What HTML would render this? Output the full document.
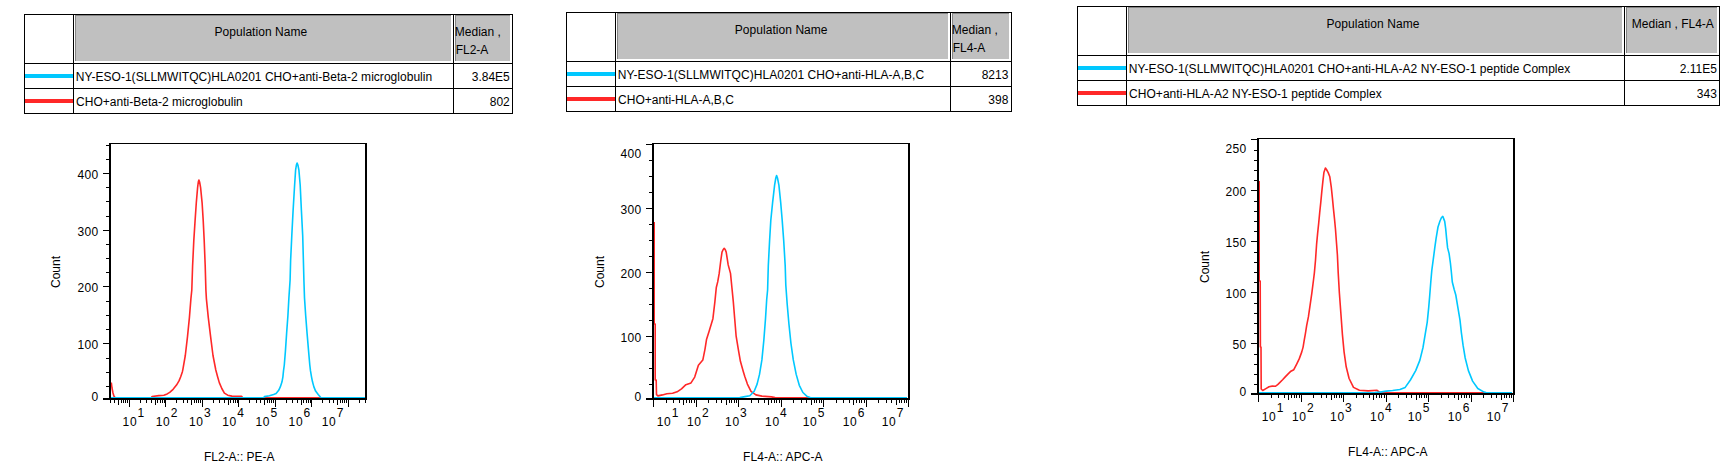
<!DOCTYPE html>
<html><head><meta charset="utf-8"><title>Flow cytometry histograms</title>
<style>
html,body{margin:0;padding:0;background:#fff;width:1730px;height:476px;overflow:hidden;}
svg{display:block;}
text{font-family:"Liberation Sans",Arial,sans-serif;font-size:12px;fill:#000;}
</style></head><body>
<svg width="1730" height="476" viewBox="0 0 1730 476" shape-rendering="crispEdges">
<rect x="0" y="0" width="1730" height="476" fill="#fff"/>
<rect x="75" y="15" width="376" height="46" fill="#C0C0C0"/>
<rect x="75" y="15" width="1" height="46" fill="#858585"/>
<rect x="75" y="15" width="376" height="1" fill="#858585"/>
<rect x="455" y="15" width="55" height="46" fill="#C0C0C0"/>
<rect x="455" y="15" width="1" height="46" fill="#858585"/>
<rect x="455" y="15" width="55" height="1" fill="#858585"/>
<rect x="24" y="14" width="489" height="1" fill="#000"/>
<rect x="24" y="113" width="489" height="1" fill="#000"/>
<rect x="24" y="63" width="489" height="1" fill="#000"/>
<rect x="24" y="88" width="489" height="1" fill="#000"/>
<rect x="24" y="14" width="1" height="100" fill="#000"/>
<rect x="73" y="14" width="1" height="100" fill="#000"/>
<rect x="453" y="14" width="1" height="100" fill="#000"/>
<rect x="512" y="14" width="1" height="100" fill="#000"/>
<rect x="25" y="74" width="48" height="4" fill="#00C8FF"/>
<rect x="25" y="99" width="48" height="4" fill="#FF2828"/>
<text x="214.40" y="35.70" textLength="92.86" lengthAdjust="spacing">Population Name</text>
<text x="454.80" y="35.50">Median ,</text>
<text x="455.70" y="53.50">FL2-A</text>
<text x="75.80" y="80.60" textLength="356.39" lengthAdjust="spacing">NY-ESO-1(SLLMWITQC)HLA0201 CHO+anti-Beta-2 microglobulin</text>
<text x="76.10" y="105.60" textLength="166.71" lengthAdjust="spacing">CHO+anti-Beta-2 microglobulin</text>
<text x="509.80" y="80.60" text-anchor="end">3.84E5</text>
<text x="509.80" y="105.60" text-anchor="end">802</text>
<rect x="617" y="13" width="331" height="46" fill="#C0C0C0"/>
<rect x="617" y="13" width="1" height="46" fill="#858585"/>
<rect x="617" y="13" width="331" height="1" fill="#858585"/>
<rect x="952" y="13" width="57" height="46" fill="#C0C0C0"/>
<rect x="952" y="13" width="1" height="46" fill="#858585"/>
<rect x="952" y="13" width="57" height="1" fill="#858585"/>
<rect x="566" y="12" width="446" height="1" fill="#000"/>
<rect x="566" y="111" width="446" height="1" fill="#000"/>
<rect x="566" y="61" width="446" height="1" fill="#000"/>
<rect x="566" y="86" width="446" height="1" fill="#000"/>
<rect x="566" y="12" width="1" height="100" fill="#000"/>
<rect x="615" y="12" width="1" height="100" fill="#000"/>
<rect x="950" y="12" width="1" height="100" fill="#000"/>
<rect x="1011" y="12" width="1" height="100" fill="#000"/>
<rect x="567" y="72" width="48" height="4" fill="#00C8FF"/>
<rect x="567" y="97" width="48" height="4" fill="#FF2828"/>
<text x="734.70" y="33.70" textLength="92.86" lengthAdjust="spacing">Population Name</text>
<text x="951.80" y="33.50">Median ,</text>
<text x="952.70" y="51.50">FL4-A</text>
<text x="617.80" y="78.60" textLength="306.38" lengthAdjust="spacing">NY-ESO-1(SLLMWITQC)HLA0201 CHO+anti-HLA-A,B,C</text>
<text x="618.10" y="103.60">CHO+anti-HLA-A,B,C</text>
<text x="1008.40" y="78.60" text-anchor="end">8213</text>
<text x="1008.40" y="103.60" text-anchor="end">398</text>
<rect x="1128" y="7" width="494" height="46" fill="#C0C0C0"/>
<rect x="1128" y="7" width="1" height="46" fill="#858585"/>
<rect x="1128" y="7" width="494" height="1" fill="#858585"/>
<rect x="1626" y="7" width="91" height="46" fill="#C0C0C0"/>
<rect x="1626" y="7" width="1" height="46" fill="#858585"/>
<rect x="1626" y="7" width="91" height="1" fill="#858585"/>
<rect x="1077" y="6" width="643" height="1" fill="#000"/>
<rect x="1077" y="105" width="643" height="1" fill="#000"/>
<rect x="1077" y="55" width="643" height="1" fill="#000"/>
<rect x="1077" y="80" width="643" height="1" fill="#000"/>
<rect x="1077" y="6" width="1" height="100" fill="#000"/>
<rect x="1126" y="6" width="1" height="100" fill="#000"/>
<rect x="1624" y="6" width="1" height="100" fill="#000"/>
<rect x="1719" y="6" width="1" height="100" fill="#000"/>
<rect x="1078" y="66" width="48" height="4" fill="#00C8FF"/>
<rect x="1078" y="91" width="48" height="4" fill="#FF2828"/>
<text x="1326.50" y="27.70" textLength="92.86" lengthAdjust="spacing">Population Name</text>
<text x="1631.80" y="27.50">Median , FL4-A</text>
<text x="1128.80" y="72.60" textLength="441.43" lengthAdjust="spacing">NY-ESO-1(SLLMWITQC)HLA0201 CHO+anti-HLA-A2 NY-ESO-1 peptide Complex</text>
<text x="1129.10" y="97.60" textLength="252.64" lengthAdjust="spacing">CHO+anti-HLA-A2 NY-ESO-1 peptide Complex</text>
<text x="1716.90" y="72.60" text-anchor="end">2.11E5</text>
<text x="1716.90" y="97.60" text-anchor="end">343</text>
<path d="M111.3,382.5 L112.0,388.0 L113.0,393.0 L114.0,396.3 L115.0,397.6" fill="none" stroke="#FF2828" stroke-width="1.6" stroke-linejoin="round" shape-rendering="geometricPrecision"/>
<path d="M151.5,397.6 L152.1,396.5 L158.8,395.6 L163.9,395.2 L167.2,393.9 L169.7,392.3 L173.1,389.3 L176.5,385.1 L179.0,380.9 L180.7,376.7 L182.4,371.7 L182.8,369.8 L185.3,355.5 L187.5,336.6 L189.4,317.7 L190.9,298.9 L191.8,290.0 L192.6,265.8 L193.8,240.6 L195.1,220.4 L196.3,202.8 L197.6,187.6 L198.3,182.0 L198.9,180.1 L199.6,182.0 L200.6,187.6 L202.1,202.8 L203.2,220.4 L204.2,240.6 L205.2,265.8 L205.9,290.0 L206.4,298.9 L208.3,317.7 L210.6,336.6 L213.0,355.5 L215.8,370.0 L217.6,376.7 L219.3,382.6 L221.8,388.5 L224.4,393.1 L227.7,395.2 L231.9,396.1 L241.5,396.3 L242.5,397.6" fill="none" stroke="#FF2828" stroke-width="1.6" stroke-linejoin="round" shape-rendering="geometricPrecision"/>
<rect x="115.0" y="397" width="36.5" height="1" fill="#FF2828"/>
<rect x="242.5" y="397" width="122.5" height="1" fill="#FF2828"/>
<path d="M263.9,397.6 L264.4,396.6 L269.4,395.7 L273.6,394.5 L276.1,393.6 L278.7,390.3 L280.3,386.9 L282.0,381.8 L282.9,376.8 L283.5,370.9 L284.3,365.0 L285.4,351.4 L286.6,333.6 L287.9,315.7 L288.9,297.9 L290.1,280.0 L290.6,260.8 L291.8,235.6 L293.1,210.4 L294.6,185.2 L295.6,170.1 L296.4,165.0 L297.1,163.0 L297.9,165.0 L298.9,170.1 L300.2,185.2 L301.4,210.4 L302.7,235.6 L303.4,260.8 L303.9,280.0 L304.5,297.9 L305.7,315.7 L307.1,333.6 L308.6,351.4 L309.8,365.0 L310.5,370.9 L311.5,376.8 L312.5,381.8 L313.9,386.9 L315.6,391.1 L318.2,394.5 L320.7,397.6" fill="none" stroke="#00C8FF" stroke-width="1.6" stroke-linejoin="round" shape-rendering="geometricPrecision"/>
<rect x="111.0" y="397" width="152.9" height="1" fill="#00C8FF"/>
<rect x="320.7" y="397" width="44.3" height="1" fill="#00C8FF"/>
<rect x="268.7" y="397" width="49.8" height="1" fill="#FF2828"/>
<rect x="109" y="143" width="258" height="1" fill="#000"/>
<rect x="109" y="143" width="2" height="257" fill="#000"/>
<rect x="365" y="143" width="2" height="257" fill="#000"/>
<rect x="103" y="398" width="264" height="2" fill="#000"/>
<path d="M106,386.5H109 M106,372.5H109 M106,358.5H109 M103,343.5H109 M106,329.5H109 M106,315.5H109 M106,301.5H109 M103,286.5H109 M106,272.5H109 M106,258.5H109 M106,244.5H109 M103,230.5H109 M106,216.5H109 M106,201.5H109 M106,187.5H109 M103,173.5H109 M106,159.5H109 M106,145.5H109 M110.5,400V403 M114.5,400V403 M118.5,400V405 M121.5,400V403 M123.5,400V403 M125.5,400V403 M127.5,400V403 M129.5,400V407 M140.5,400V403 M146.5,400V403 M151.5,400V403 M155.5,400V405 M157.5,400V403 M160.5,400V403 M162.5,400V403 M164.5,400V403 M165.5,400V407 M176.5,400V403 M183.5,400V403 M187.5,400V403 M191.5,400V405 M194.5,400V403 M196.5,400V403 M198.5,400V403 M200.5,400V403 M202.5,400V407 M213.5,400V403 M219.5,400V403 M224.5,400V403 M228.5,400V405 M230.5,400V403 M233.5,400V403 M235.5,400V403 M237.5,400V403 M238.5,400V407 M249.5,400V403 M256.5,400V403 M260.5,400V403 M264.5,400V405 M267.5,400V403 M269.5,400V403 M271.5,400V403 M273.5,400V403 M275.5,400V407 M286.5,400V403 M292.5,400V403 M297.5,400V403 M301.5,400V405 M303.5,400V403 M306.5,400V403 M308.5,400V403 M310.5,400V403 M311.5,400V407 M322.5,400V403 M329.5,400V403 M333.5,400V403 M337.5,400V405 M340.5,400V403 M342.5,400V403 M344.5,400V403 M346.5,400V403 M348.5,400V407 M359.5,400V403 M365.5,400V403" stroke="#000" stroke-width="1" fill="none"/>
<text x="98.53" y="400.50" text-anchor="end" letter-spacing="0.33">0</text>
<text x="98.53" y="348.75" text-anchor="end" letter-spacing="0.33">100</text>
<text x="98.53" y="292.30" text-anchor="end" letter-spacing="0.33">200</text>
<text x="98.53" y="235.85" text-anchor="end" letter-spacing="0.33">300</text>
<text x="98.53" y="179.40" text-anchor="end" letter-spacing="0.33">400</text>
<text x="122.60" y="425.50" letter-spacing="0.65">10</text>
<text x="137.60" y="416.60">1</text>
<text x="155.80" y="425.50" letter-spacing="0.65">10</text>
<text x="170.80" y="416.60">2</text>
<text x="189.00" y="425.50" letter-spacing="0.65">10</text>
<text x="204.00" y="416.60">3</text>
<text x="222.20" y="425.50" letter-spacing="0.65">10</text>
<text x="237.20" y="416.60">4</text>
<text x="255.40" y="425.50" letter-spacing="0.65">10</text>
<text x="270.40" y="416.60">5</text>
<text x="288.60" y="425.50" letter-spacing="0.65">10</text>
<text x="303.60" y="416.60">6</text>
<text x="321.80" y="425.50" letter-spacing="0.65">10</text>
<text x="336.80" y="416.60">7</text>
<text x="203.90" y="460.80">FL2-A:: PE-A</text>
<text transform="translate(60.40,288.00) rotate(-90)">Count</text>
<path d="M654.2,222.0 L654.2,324.0 L655.2,324.0 L655.2,380.0 L656.2,380.0 L656.5,394.7 L657.9,395.9 L662.4,394.9 L666.8,393.7 L672.6,393.3 L677.1,391.8 L681.5,388.8 L685.9,384.7 L691.0,382.9 L694.7,377.1 L698.4,365.3 L702.8,360.1 L705.0,349.1 L706.5,339.6 L709.2,331.0 L712.9,318.7 L714.9,301.7 L716.3,287.5 L717.7,281.9 L719.2,273.4 L720.6,262.0 L722.0,252.1 L723.2,249.5 L724.2,248.4 L725.2,249.5 L726.2,252.1 L728.2,264.9 L730.5,273.4 L731.9,287.5 L733.3,301.7 L734.7,318.7 L736.1,335.8 L738.4,349.9 L740.4,361.3 L743.2,371.2 L744.8,376.5 L747.4,384.1 L751.0,391.3 L755.9,394.9 L761.9,396.1 L771.5,396.9 L775.0,397.6" fill="none" stroke="#FF2828" stroke-width="1.6" stroke-linejoin="round" shape-rendering="geometricPrecision"/>
<rect x="775.0" y="397" width="132.0" height="1" fill="#FF2828"/>
<path d="M739.8,397.6 L745.0,396.6 L749.8,395.7 L754.2,391.3 L757.1,384.1 L759.5,374.4 L761.9,359.9 L763.8,340.6 L765.5,318.8 L766.7,299.5 L767.6,290.0 L768.3,265.7 L769.6,240.5 L770.8,220.4 L772.6,202.7 L774.6,185.1 L775.8,178.0 L776.6,175.5 L777.5,178.0 L778.9,185.1 L780.7,202.7 L782.2,220.4 L783.7,240.5 L785.2,265.7 L785.8,285.0 L787.2,304.3 L788.9,323.7 L790.9,343.0 L793.3,359.9 L796.2,374.4 L799.3,385.3 L802.9,392.5 L807.3,396.6 L810.2,397.6" fill="none" stroke="#00C8FF" stroke-width="1.6" stroke-linejoin="round" shape-rendering="geometricPrecision"/>
<rect x="654.0" y="397" width="85.8" height="1" fill="#00C8FF"/>
<rect x="810.2" y="397" width="96.8" height="1" fill="#00C8FF"/>
<rect x="652" y="143" width="258" height="1" fill="#000"/>
<rect x="652" y="143" width="2" height="257" fill="#000"/>
<rect x="908" y="143" width="2" height="257" fill="#000"/>
<rect x="646" y="398" width="264" height="2" fill="#000"/>
<path d="M649,384.5H652 M649,368.5H652 M649,352.5H652 M646,336.5H652 M649,320.5H652 M649,304.5H652 M649,288.5H652 M646,272.5H652 M649,256.5H652 M649,240.5H652 M649,224.5H652 M646,208.5H652 M649,192.5H652 M649,176.5H652 M649,160.5H652 M646,144.5H652 M653.5,400V407 M666.5,400V403 M673.5,400V403 M679.5,400V403 M683.5,400V405 M686.5,400V403 M689.5,400V403 M691.5,400V403 M694.5,400V403 M696.5,400V407 M708.5,400V403 M716.5,400V403 M721.5,400V403 M726.5,400V405 M729.5,400V403 M731.5,400V403 M734.5,400V403 M736.5,400V403 M738.5,400V407 M751.5,400V403 M758.5,400V403 M764.5,400V403 M768.5,400V405 M771.5,400V403 M774.5,400V403 M776.5,400V403 M779.5,400V403 M781.5,400V407 M793.5,400V403 M801.5,400V403 M806.5,400V403 M811.5,400V405 M814.5,400V403 M816.5,400V403 M819.5,400V403 M821.5,400V403 M823.5,400V407 M836.5,400V403 M843.5,400V403 M849.5,400V403 M853.5,400V405 M856.5,400V403 M859.5,400V403 M861.5,400V403 M864.5,400V403 M866.5,400V407 M878.5,400V403 M886.5,400V403 M891.5,400V403 M896.5,400V405 M899.5,400V403 M901.5,400V403 M904.5,400V403 M906.5,400V403 M908.5,400V407" stroke="#000" stroke-width="1" fill="none"/>
<text x="641.53" y="400.50" text-anchor="end" letter-spacing="0.33">0</text>
<text x="641.53" y="341.72" text-anchor="end" letter-spacing="0.33">100</text>
<text x="641.53" y="277.94" text-anchor="end" letter-spacing="0.33">200</text>
<text x="641.53" y="214.16" text-anchor="end" letter-spacing="0.33">300</text>
<text x="641.53" y="158.00" text-anchor="end" letter-spacing="0.33">400</text>
<text x="656.70" y="425.50" letter-spacing="0.65">10</text>
<text x="671.70" y="416.60">1</text>
<text x="687.00" y="425.50" letter-spacing="0.65">10</text>
<text x="702.00" y="416.60">2</text>
<text x="725.10" y="425.50" letter-spacing="0.65">10</text>
<text x="740.10" y="416.60">3</text>
<text x="765.10" y="425.50" letter-spacing="0.65">10</text>
<text x="780.10" y="416.60">4</text>
<text x="802.80" y="425.50" letter-spacing="0.65">10</text>
<text x="817.80" y="416.60">5</text>
<text x="842.80" y="425.50" letter-spacing="0.65">10</text>
<text x="857.80" y="416.60">6</text>
<text x="881.70" y="425.50" letter-spacing="0.65">10</text>
<text x="896.70" y="416.60">7</text>
<text x="743.00" y="460.80" textLength="79.50" lengthAdjust="spacing">FL4-A:: APC-A</text>
<text transform="translate(603.70,288.00) rotate(-90)">Count</text>
<path d="M1259.2,181.0 L1259.2,281.0 L1260.2,281.0 L1260.4,347.0 L1261.0,347.0 L1261.2,389.0 L1262.7,390.5 L1265.9,388.6 L1269.0,386.7 L1272.2,386.1 L1275.3,386.3 L1277.0,385.2 L1278.2,384.1 L1282.6,379.7 L1285.0,377.1 L1287.9,374.1 L1290.9,371.2 L1293.8,369.7 L1296.8,363.8 L1299.2,358.9 L1301.7,352.1 L1303.1,347.1 L1304.2,340.4 L1305.4,333.7 L1306.7,325.3 L1308.4,316.9 L1310.1,305.2 L1311.8,293.4 L1313.5,280.0 L1314.4,272.6 L1315.5,260.2 L1316.6,244.2 L1317.6,233.7 L1318.7,223.2 L1319.7,212.6 L1320.8,202.1 L1321.8,191.6 L1322.9,181.1 L1323.9,172.6 L1325.4,168.0 L1326.5,169.5 L1328.2,172.6 L1329.8,176.8 L1331.3,187.4 L1332.4,197.9 L1333.4,208.4 L1334.5,218.9 L1335.5,229.5 L1336.6,244.2 L1337.4,255.0 L1338.2,272.6 L1339.4,293.2 L1340.9,313.8 L1342.4,334.4 L1344.1,352.1 L1346.2,366.8 L1349.1,378.5 L1353.5,387.4 L1359.4,390.3 L1368.2,390.9 L1377.1,390.3 L1380.0,392.6" fill="none" stroke="#FF2828" stroke-width="1.6" stroke-linejoin="round" shape-rendering="geometricPrecision"/>
<rect x="1380.0" y="392" width="132.0" height="1" fill="#FF2828"/>
<path d="M1375.0,392.6 L1380.0,392.1 L1386.3,391.1 L1392.6,390.5 L1399.9,389.5 L1405.2,387.4 L1410.4,380.0 L1415.7,370.6 L1419.9,360.1 L1423.0,347.5 L1425.1,334.9 L1427.2,322.3 L1428.7,307.6 L1429.6,297.0 L1430.8,281.7 L1431.8,270.4 L1433.3,259.1 L1434.8,247.7 L1436.1,238.3 L1438.0,227.0 L1439.9,221.3 L1441.5,217.5 L1442.8,216.4 L1444.7,221.4 L1445.7,228.9 L1446.6,238.4 L1447.6,247.9 L1449.1,253.6 L1450.4,263.0 L1451.4,272.5 L1452.3,282.0 L1454.2,289.5 L1455.8,295.0 L1457.9,307.6 L1460.0,320.2 L1461.4,332.8 L1463.1,345.4 L1465.2,358.0 L1468.4,370.6 L1472.6,381.1 L1477.8,388.5 L1484.1,392.1 L1486.0,392.6" fill="none" stroke="#00C8FF" stroke-width="1.6" stroke-linejoin="round" shape-rendering="geometricPrecision"/>
<rect x="1259.0" y="392" width="116.0" height="1" fill="#00C8FF"/>
<rect x="1486.0" y="392" width="26.0" height="1" fill="#00C8FF"/>
<rect x="1257" y="138" width="258" height="1" fill="#000"/>
<rect x="1257" y="138" width="2" height="257" fill="#000"/>
<rect x="1513" y="138" width="2" height="257" fill="#000"/>
<rect x="1251" y="393" width="264" height="2" fill="#000"/>
<path d="M1254,384.5H1257 M1254,374.5H1257 M1254,364.5H1257 M1254,354.5H1257 M1251,343.5H1257 M1254,333.5H1257 M1254,323.5H1257 M1254,313.5H1257 M1254,303.5H1257 M1251,292.5H1257 M1254,282.5H1257 M1254,272.5H1257 M1254,262.5H1257 M1254,252.5H1257 M1251,241.5H1257 M1254,231.5H1257 M1254,221.5H1257 M1254,211.5H1257 M1254,201.5H1257 M1251,190.5H1257 M1254,180.5H1257 M1254,170.5H1257 M1254,160.5H1257 M1254,150.5H1257 M1251,139.5H1257 M1258.5,395V402 M1271.5,395V398 M1278.5,395V398 M1284.5,395V398 M1288.5,395V400 M1291.5,395V398 M1294.5,395V398 M1296.5,395V398 M1299.5,395V398 M1301.5,395V402 M1313.5,395V398 M1321.5,395V398 M1326.5,395V398 M1331.5,395V400 M1334.5,395V398 M1336.5,395V398 M1339.5,395V398 M1341.5,395V398 M1343.5,395V402 M1356.5,395V398 M1363.5,395V398 M1369.5,395V398 M1373.5,395V400 M1376.5,395V398 M1379.5,395V398 M1381.5,395V398 M1384.5,395V398 M1386.5,395V402 M1398.5,395V398 M1406.5,395V398 M1411.5,395V398 M1416.5,395V400 M1419.5,395V398 M1421.5,395V398 M1424.5,395V398 M1426.5,395V398 M1428.5,395V402 M1441.5,395V398 M1448.5,395V398 M1454.5,395V398 M1458.5,395V400 M1461.5,395V398 M1464.5,395V398 M1466.5,395V398 M1469.5,395V398 M1471.5,395V402 M1483.5,395V398 M1491.5,395V398 M1496.5,395V398 M1501.5,395V400 M1504.5,395V398 M1506.5,395V398 M1509.5,395V398 M1511.5,395V398 M1513.5,395V402" stroke="#000" stroke-width="1" fill="none"/>
<text x="1246.53" y="395.50" text-anchor="end" letter-spacing="0.33">0</text>
<text x="1246.53" y="349.16" text-anchor="end" letter-spacing="0.33">50</text>
<text x="1246.53" y="298.22" text-anchor="end" letter-spacing="0.33">100</text>
<text x="1246.53" y="247.28" text-anchor="end" letter-spacing="0.33">150</text>
<text x="1246.53" y="196.34" text-anchor="end" letter-spacing="0.33">200</text>
<text x="1246.53" y="153.00" text-anchor="end" letter-spacing="0.33">250</text>
<text x="1261.70" y="420.50" letter-spacing="0.65">10</text>
<text x="1276.70" y="411.60">1</text>
<text x="1292.00" y="420.50" letter-spacing="0.65">10</text>
<text x="1307.00" y="411.60">2</text>
<text x="1330.10" y="420.50" letter-spacing="0.65">10</text>
<text x="1345.10" y="411.60">3</text>
<text x="1370.10" y="420.50" letter-spacing="0.65">10</text>
<text x="1385.10" y="411.60">4</text>
<text x="1407.80" y="420.50" letter-spacing="0.65">10</text>
<text x="1422.80" y="411.60">5</text>
<text x="1447.80" y="420.50" letter-spacing="0.65">10</text>
<text x="1462.80" y="411.60">6</text>
<text x="1486.70" y="420.50" letter-spacing="0.65">10</text>
<text x="1501.70" y="411.60">7</text>
<text x="1348.00" y="455.80" textLength="79.50" lengthAdjust="spacing">FL4-A:: APC-A</text>
<text transform="translate(1208.70,283.00) rotate(-90)">Count</text>
</svg>
</body></html>
